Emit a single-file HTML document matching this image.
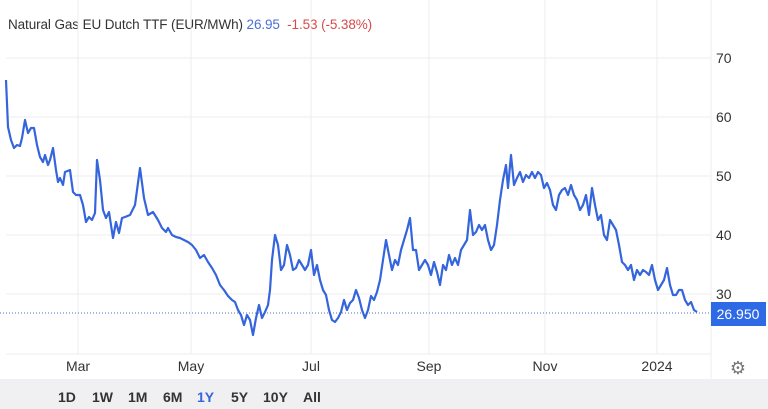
<!DOCTYPE html>
<html><head><meta charset="utf-8"><style>
body{margin:0;background:#fff;font-family:"Liberation Sans",Arial,sans-serif;}
.wrap{position:relative;width:768px;height:409px;overflow:hidden;}
.title{position:absolute;left:8px;top:17px;font-size:13.5px;color:#333;letter-spacing:-0.1px;}
.bar{position:absolute;left:0;top:379px;width:768px;height:30px;background:#f0f0f3;}
.btn{position:absolute;top:389px;font-size:14px;font-weight:bold;color:#333;}
</style></head><body><div class="wrap">
<div class="title">Natural Gas EU Dutch TTF (EUR/MWh) <span style="color:#4a6fd6">26.95</span> &nbsp;<span style="color:#d64a4a">-1.53 (-5.38%)</span></div>
<svg width="768" height="379" style="position:absolute;left:0;top:0" font-family="Liberation Sans, Arial, sans-serif">
<g stroke="#ececec" stroke-width="1">
<line x1="6" y1="58" x2="711" y2="58"/><line x1="6" y1="117" x2="711" y2="117"/><line x1="6" y1="176" x2="711" y2="176"/><line x1="6" y1="235" x2="711" y2="235"/><line x1="6" y1="294" x2="711" y2="294"/><line x1="6" y1="354" x2="711" y2="354"/>
<line x1="78" y1="0" x2="78" y2="354"/><line x1="191" y1="0" x2="191" y2="354"/><line x1="311" y1="0" x2="311" y2="354"/><line x1="429" y1="0" x2="429" y2="354"/><line x1="545" y1="0" x2="545" y2="354"/><line x1="657" y1="0" x2="657" y2="354"/><line x1="711" y1="0" x2="711" y2="379"/>
</g>
<line x1="0" y1="313" x2="711" y2="313" stroke="#4a6fd6" stroke-width="1" stroke-dasharray="1,2"/>
<polyline fill="none" stroke="#3565dc" stroke-width="2.2" stroke-linejoin="round" points="6,80 8,127 11,140 14,148 17,145 20,146 22,138 25,120 28,133 31,128 34,128 37,145 40,157 43,162 45,155 48,165 50,160 53,148 56,170 58,182 60,178 63,185 65,172 70,170 73,192 76,195 80,195 83,205 86,222 89,217 92,220 95,213 97,160 100,180 103,210 106,218 109,212 113,238 116,222 119,233 122,218 125,217 130,215 135,205 140,168 144,198 148,215 153,212 158,220 162,228 166,232 168,228 172,235 176,237 180,238 184,240 188,242 192,245 196,250 200,258 204,255 208,262 212,268 216,275 220,285 224,290 228,296 232,300 235,302 238,310 241,315 244,325 247,315 250,320 253,335 256,318 259,305 262,318 265,312 268,305 270,290 272,260 275,235 278,245 281,270 284,265 287,245 290,255 293,270 296,268 299,260 302,265 305,270 308,265 311,250 314,275 317,265 320,280 323,290 326,295 329,310 332,320 335,322 338,318 341,312 344,300 347,310 350,303 353,300 356,290 359,298 362,310 365,318 368,310 371,296 374,300 377,292 380,280 383,260 386,240 389,255 392,270 395,260 398,265 401,250 404,240 407,230 410,218 413,250 416,250 419,270 422,265 425,260 428,265 431,275 434,262 437,272 440,285 443,265 446,270 449,255 452,265 455,258 458,265 461,250 464,245 467,240 470,210 473,235 476,232 479,225 482,230 485,225 488,240 491,250 494,245 497,225 500,200 503,180 506,165 508,188 511,155 514,185 517,178 520,172 523,182 526,175 529,178 532,172 535,178 538,172 541,175 544,188 547,183 550,190 553,205 556,210 559,195 562,190 565,188 568,195 571,185 574,195 577,200 580,210 583,205 586,195 589,215 592,188 595,205 598,220 601,215 604,235 607,240 610,220 613,225 616,230 619,245 622,262 625,265 628,270 631,265 634,280 637,270 640,275 643,270 646,272 649,275 652,265 655,280 658,290 661,285 664,280 667,268 670,285 673,295 676,295 679,290 682,290 685,300 688,305 691,302 694,310 697,312"/>
<g font-size="14" fill="#333">
<text x="716" y="63">70</text><text x="716" y="122">60</text><text x="716" y="181">50</text><text x="716" y="240">40</text><text x="716" y="299">30</text>
<text x="78" y="371" text-anchor="middle">Mar</text><text x="191" y="371" text-anchor="middle">May</text><text x="311" y="371" text-anchor="middle">Jul</text><text x="429" y="371" text-anchor="middle">Sep</text><text x="545" y="371" text-anchor="middle">Nov</text><text x="657" y="371" text-anchor="middle">2024</text>
</g>
<rect x="711" y="302" width="55" height="24" fill="#2f6ae6"/>
<text x="738" y="319" font-size="14" fill="#fff" text-anchor="middle">26.950</text>
<text x="738" y="374" font-size="18" fill="#777" text-anchor="middle">⚙</text>
</svg>
<div class="bar"></div>
<span class="btn" style="left:58px">1D</span><span class="btn" style="left:92px">1W</span><span class="btn" style="left:128px">1M</span><span class="btn" style="left:163px">6M</span><span class="btn" style="left:197px;color:#3565dc">1Y</span><span class="btn" style="left:231px">5Y</span><span class="btn" style="left:263px">10Y</span><span class="btn" style="left:303px">All</span>
</div></body></html>
